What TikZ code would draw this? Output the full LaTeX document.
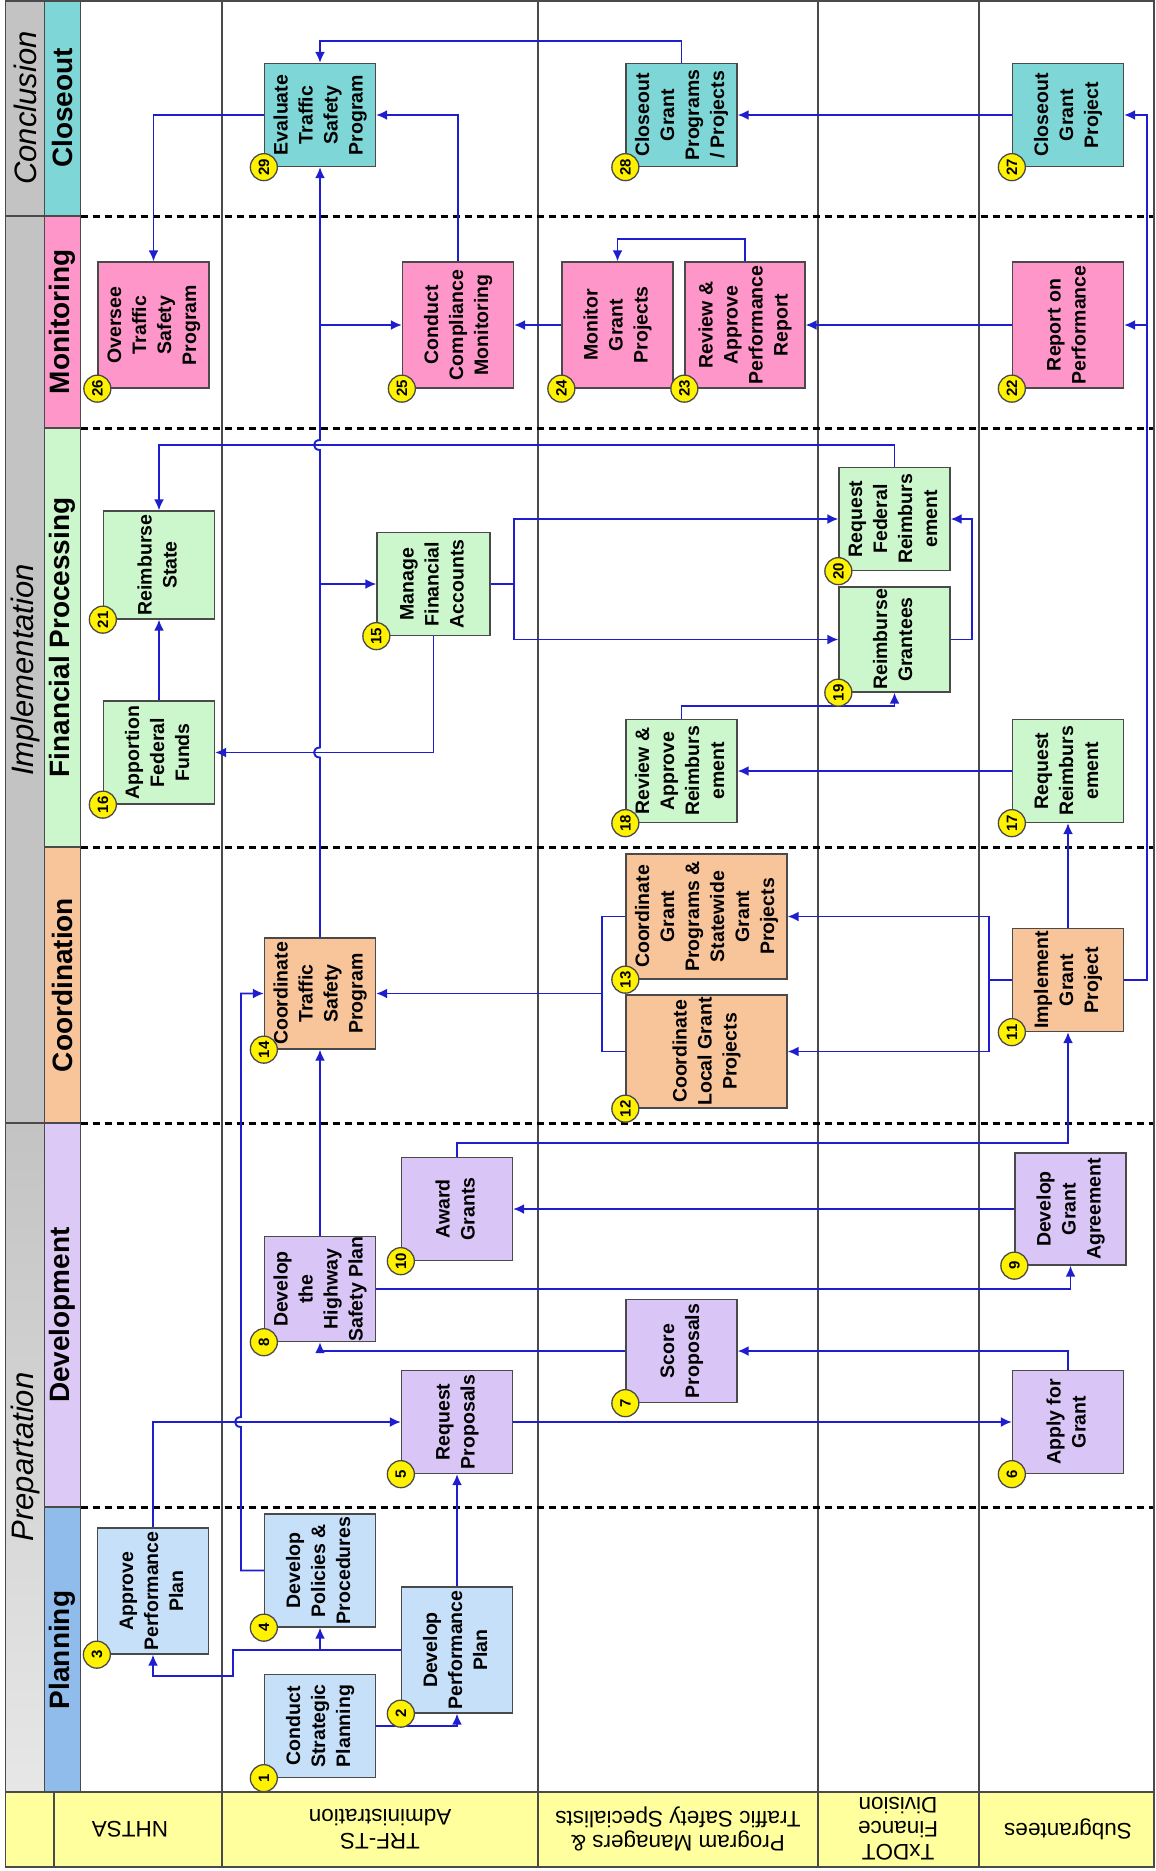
\documentclass[tikz,border=0pt]{standalone}
\usepackage{fontspec}
\setmainfont{Liberation Sans}
\usetikzlibrary{arrows.meta}
\usetikzlibrary{positioning}

\definecolor{plancol}{HTML}{8FBCEB}
\definecolor{planbox}{HTML}{C6E0F9}
\definecolor{devcol}{HTML}{DCC9F5}
\definecolor{devbox}{HTML}{DAC5F7}
\definecolor{coordbox}{HTML}{F8C49A}
\definecolor{finbox}{HTML}{CCF7CC}
\definecolor{monbox}{HTML}{FF96CA}
\definecolor{closebox}{HTML}{7FD6D6}
\definecolor{phasegray}{HTML}{C3C3C3}
\definecolor{laneyellow}{HTML}{FFFF9E}
\definecolor{flowblue}{HTML}{1E1ECF}
\definecolor{edgegray}{HTML}{4A4A4A}

\newcommand\boxfont{\fontsize{19.5}{25}\selectfont\bfseries}
\newcommand\lanefont{\fontsize{22.5}{23.5}\selectfont}
\newcommand\vlines[1]{\rotatebox{90}{\begin{tabular}{@{}c@{}}#1\end{tabular}}}

\tikzset{
task/.style={draw=edgegray,line width=1.3pt,minimum width=111pt,
minimum height=103pt,inner sep=0pt,font=\boxfont},
planb/.style={task,fill=planbox},
devb/.style={task,fill=devbox},
coordb/.style={task,fill=coordbox},
finb/.style={task,fill=finbox},
monb/.style={task,fill=monbox,minimum height=126pt},
closeb/.style={task,fill=closebox},
num/.style={circle,draw=edgegray,fill=yellow,line width=1.3pt,minimum size=27pt,
inner sep=0pt,font=\fontsize{15}{15}\selectfont\bfseries},
flow/.style={draw=flowblue,line width=1.9pt,-{Latex[length=11pt,width=10pt]}},
link/.style={draw=flowblue,line width=1.9pt},
lane/.style={rotate=180,align=center,font=\lanefont},
phase/.style={rotate=90,font=\fontsize{31}{31}\selectfont\itshape},
stage/.style={rotate=90,font=\fontsize{28}{28}\selectfont\bfseries},
laneline/.style={edgegray,line width=2pt},
phaseline/.style={black,line width=3pt,dash pattern=on 7pt off 5pt}
}

\begin{document}
\begin{tikzpicture}[x=1pt,y=-1pt]
\useasboundingbox(0,0)rectangle(1156,1871);

% phase columns
\fill[phasegray](5.5,0)rectangle(44.4,1123);
\shade[top color=phasegray,bottom color=phasegray!40](5.5,1123)rectangle(44.4,1792);
\draw[edgegray,line width=1.2pt](5.5,216)--(44.4,216)(5.5,1123)--(44.4,1123);
\filldraw[fill=closebox,draw=edgegray,line width=1.2pt](44.4,0)rectangle(80.6,216);
\filldraw[fill=monbox,draw=edgegray,line width=1.2pt](44.4,216)rectangle(80.6,428);
\filldraw[fill=finbox,draw=edgegray,line width=1.2pt](44.4,428)rectangle(80.6,847);
\filldraw[fill=coordbox,draw=edgegray,line width=1.2pt](44.4,847)rectangle(80.6,1123);
\filldraw[fill=devcol,draw=edgegray,line width=1.2pt](44.4,1123)rectangle(80.6,1507);
\filldraw[fill=plancol,draw=edgegray,line width=1.2pt](44.4,1507)rectangle(80.6,1792);

% lane labels band
\filldraw[fill=laneyellow,draw=edgegray,line width=1.5pt](5.5,1792)rectangle(1154,1867);
\draw[laneline](53.6,1792)--(53.6,1867);
\foreach \x in {222,538,818,979}
\draw[laneline](\x,0)--(\x,1867);
\foreach \y in {216,428,847,1123,1507}
\draw[phaseline](80.6,\y)--(1154,\y);
\draw[edgegray,line width=1.5pt](5.5,1)rectangle(1154,1867);

\node[phase](pConcl)at(25,108){Conclusion};
\node[phase](pImpl)at(25,670){Implementation};
\node[phase](pPrep)at(25,1457){Prepartation};
\node[stage](sClose)at(62.5,108){Closeout};
\node[stage](sMon)at(62.5,322){Monitoring};
\node[stage](sFin)at(62.5,637.5){Financial Processing};
\node[stage](sCoord)at(62.5,985){Coordination};
\node[stage](sDev)at(62.5,1315){Development};
\node[stage](sPlan)at(62.5,1650){Planning};

\node[lane](lNHTSA)at(130,1829){NHTSA};
\node[lane](lTRF)at(380,1829){TRF-TS\\Administration};
\node[lane](lPM)at(678,1829){Program Managers \&\\Traffic Safety Specialists};
\node[lane](lFin)at(898,1829){TxDOT\\Finance\\Division};
\node[lane](lSub)at(1068,1829){Subgrantees};

% tasks
\node[planb](b1)at(320,1726){\vlines{Conduct\\Strategic\\Planning}};
\node[planb,minimum height=126pt](b2)at(457,1650){\vlines{Develop\\Performance\\Plan}};
\node[planb,minimum height=126pt](b3)at(153,1591){\vlines{Approve\\Performance\\Plan}};
\node[planb,minimum height=113pt](b4)at(320,1570.5){\vlines{Develop\\Policies \&\\Procedures}};
\node[devb](b5)at(457,1422){\vlines{Request\\Proposals}};
\node[devb](b6)at(1068,1422){\vlines{Apply for\\Grant}};
\node[devb](b7)at(681.5,1351){\vlines{Score\\Proposals}};
\node[devb](b8)at(320,1289){\vlines{Develop\\the\\Highway\\Safety Plan}};
\node[devb,minimum height=112pt](b9)at(1070.5,1209){\vlines{Develop\\Grant\\Agreement}};
\node[devb](b10)at(457,1209){\vlines{Award\\Grants}};
\node[coordb](b11)at(1068,980){\vlines{Implement\\Grant\\Project}};
\node[coordb,minimum width=161pt,minimum height=113pt](b12)at(706.5,1051.5)
{\vlines{Coordinate\\Local Grant\\Projects}};
\node[coordb,minimum width=161pt,minimum height=125pt](b13)at(706.5,916.5)
{\vlines{Coordinate\\Grant\\Programs \&\\Statewide\\Grant\\Projects}};
\node[coordb,minimum height=111pt](b14)at(320,993.5){\vlines{Coordinate\\Traffic\\Safety\\Program}};
\node[finb,minimum width=113pt](b15)at(433.5,584){\vlines{Manage\\Financial\\Accounts}};
\node[finb](b16)at(159,752.5){\vlines{Apportion\\Federal\\Funds}};
\node[finb](b17)at(1068,771){\vlines{Request\\Reimburs\\ement}};
\node[finb](b18)at(681.5,771){\vlines{Review \&\\Approve\\Reimburs\\ement}};
\node[finb,minimum height=105pt](b19)at(894.5,639.5){\vlines{Reimburse\\Grantees}};
\node[finb](b20)at(894.5,519){\vlines{Request\\Federal\\Reimburs\\ement}};
\node[finb,minimum height=108pt](b21)at(159,565){\vlines{Reimburse\\State}};
\node[monb](b22)at(1068,325){\vlines{Report on\\Performance}};
\node[monb,minimum width=120pt](b23)at(745,325){\vlines{Review \&\\Approve\\Performance\\Report}};
\node[monb](b24)at(617.5,325){\vlines{Monitor\\Grant\\Projects}};
\node[monb](b25)at(458,325){\vlines{Conduct\\Compliance\\Monitoring}};
\node[monb](b26)at(153.5,325){\vlines{Oversee\\Traffic\\Safety\\Program}};
\node[closeb](b27)at(1068,115){\vlines{Closeout\\Grant\\Project}};
\node[closeb](b28)at(681.5,115){\vlines{Closeout\\Grant\\Programs\\/ Projects}};
\node[closeb](b29)at(320,115){\vlines{Evaluate\\Traffic\\Safety\\Program}};

% planning
\draw[flow](b1.east)-|(b2.south);
\draw[flow](b2.west)-|(b4.south);
\draw[flow](b2.west)--(233,1650)|-(153,1676)--(b3.south);
\draw[flow](b2.north)--(b5.south);
\draw[flow](b4.west)--(241,1570.5)--(241,1427)
..controls(233,1427)and(233,1417)..(241,1417)|-(b14.west);

% development
\draw[flow](b3.north)|-(b5.west);
\draw[flow](b5.east)--(b6.west);
\draw[flow](b6.north)|-(b7.east);
\draw[flow](b7.west)-|(b8.south);
\draw[flow](b8.east)-|(b9.south);
\draw[flow](b9.west)--(b10.east);
\draw[flow](b10.north)--++(0,-14)-|(b11.south);
\draw[flow](b8.north)--(b14.south);

% coordination
\draw[flow](b11.west)--++(-23,0)coordinate(K11)|-(b13.east);
\draw[flow](K11)|-(b12.east);
\coordinate(K13)at(602,993.5);
\draw[link](b13.west)-|(K13);
\draw[link](b12.west)-|(K13);
\draw[flow](K13)--(b14.east);
\draw[flow](b11.north)--(b17.south);
\draw[flow](b11.east)--++(23,0)coordinate(K27)|-(b27.east);
\draw[flow](K27)|-(b22.east);

% financial processing
\draw[flow](b17.west)--(b18.east);
\draw[flow](b18.north)--++(0,-13)-|(b19.south);
\draw[flow](b19.east)--++(21,0)|-(b20.east);
\draw[flow](b15.east)--++(23,0)coordinate(K15)|-(b20.west);
\draw[flow](K15)|-(b19.west);
\draw[flow](b15.south)|-(b16.east);
\draw[flow](b16.north)--(b21.south);
\draw[flow](b20.north)--++(0,-22)-|(b21.north);

% monitoring and closeout
\draw[flow](b14.north)--(320,757.5)..controls(312,757.5)and(312,747.5)..(320,747.5)
--(320,450)..controls(312,450)and(312,440)..(320,440)--(b29.south);
\draw[flow](b14.north|-b15.west)--(b15.west);
\draw[flow](b14.north|-b25.west)--(b25.west);
\draw[flow](b24.west)--(b25.east);
\draw[flow](b25.north)|-(b29.east);
\draw[flow](b29.west)-|(b26.north);
\draw[flow](b28.north)--++(0,-22)-|(b29.north);
\draw[flow](b27.west)--(b28.east);
\draw[flow](b23.north)--++(0,-22)-|(b24.north);
\draw[flow](b22.west)--(b23.east);

\foreach \i in {1,...,29}
\node[num](n\i)at(b\i.south west){\rotatebox{90}{\i}};
\end{tikzpicture}
\end{document}
